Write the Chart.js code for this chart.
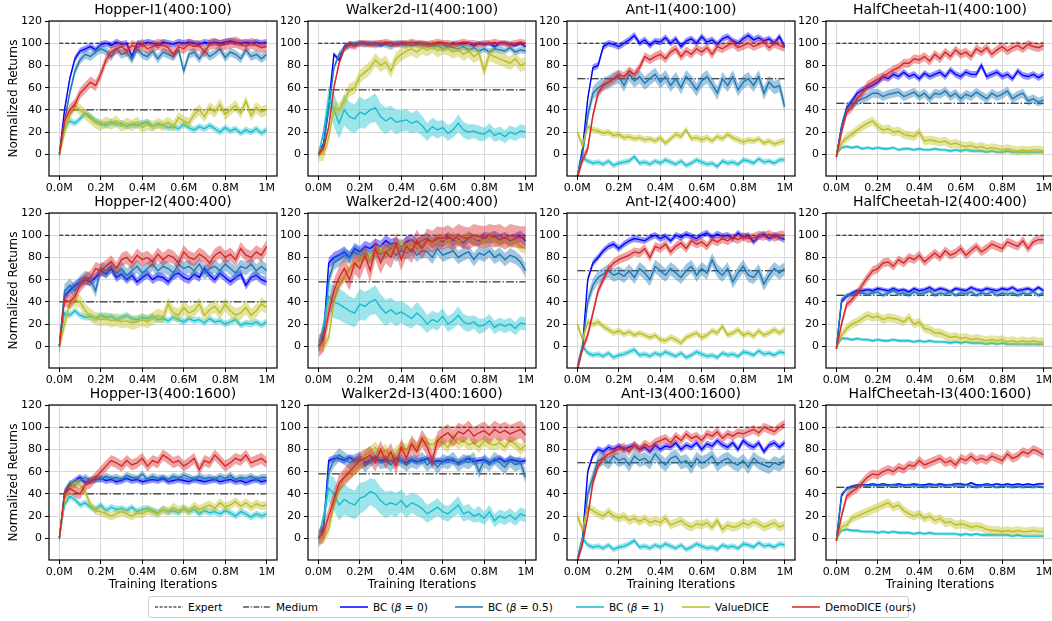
<!DOCTYPE html>
<html><head><meta charset="utf-8">
<script src="https://cdn.jsdelivr.net/npm/chart.js@4.4.1/dist/chart.umd.min.js"></script>
<style>
html,body{margin:0;padding:0;background:#fff;width:1052px;height:621px;overflow:hidden;font-family:'DejaVu Sans',sans-serif;}
.panel{position:absolute;}
#legend{position:absolute;left:148px;top:596px;width:761px;height:22px;border:1px solid #cccccc;border-radius:3px;box-sizing:border-box;background:#fff;}
.li{position:absolute;top:0;height:20px;display:flex;align-items:center;font-size:10.5px;white-space:nowrap;color:#000;}
.li svg{margin-right:5px;}
</style></head><body>
<div id="legend"></div>
<script>
// ---------- data ----------
const iterations = [0,0.025,0.05,0.075,0.1,0.125,0.15,0.175,0.2,0.225,0.25,0.275,0.3,0.325,0.35,0.375,0.4,0.425,0.45,0.475,0.5,0.525,0.55,0.575,0.6,0.625,0.65,0.675,0.7,0.725,0.75,0.775,0.8,0.825,0.85,0.875,0.9,0.925,0.95,0.975,1];
const xTickValues = [0,0.2,0.4,0.6,0.8,1];
const xTickLabels = ["0.0M","0.2M","0.4M","0.6M","0.8M","1M"];
const yTickValues = [0,20,40,60,80,100,120];
const panelTitles = ["Hopper-I1(400:100)","Walker2d-I1(400:100)","Ant-I1(400:100)","HalfCheetah-I1(400:100)",
  "Hopper-I2(400:400)","Walker2d-I2(400:400)","Ant-I2(400:400)","HalfCheetah-I2(400:400)",
  "Hopper-I3(400:1600)","Walker2d-I3(400:1600)","Ant-I3(400:1600)","HalfCheetah-I3(400:1600)"];
const expertLevel = 100;
const mediumLevels = [40, 58, 68, 46]; // Hopper, Walker2d, Ant, HalfCheetah
const seriesNames = ["BC (β = 0)","BC (β = 0.5)","BC (β = 1)","ValueDICE","DemoDICE (ours)"];

// Hopper-I1
const hopperI1Bc0 = [0,40,68,86,93,95,97,94,99,100,98,101,99,100,88,100,99,101,100,98,101,100,99,101,100,101,100,99,101,100,101,100,101,102,101,100,101,100,101,100,101];
const hopperI1Bc05 = [0,30,55,75,85,90,88,92,95,93,88,95,90,92,85,95,90,88,93,86,92,90,88,94,75,90,92,86,93,88,91,95,87,92,90,86,94,88,90,86,90];
const hopperI1Bc1 = [0,25,30,28,32,37,34,30,28,26,29,27,28,25,27,26,28,29,25,27,26,24,25,23,27,24,22,25,23,26,23,20,24,21,23,19,22,20,23,19,22];
const hopperI1Vdice = [0,20,35,44,40,36,32,28,26,29,27,30,25,28,26,29,24,27,25,28,26,29,25,33,30,28,36,40,34,42,38,45,36,40,44,37,48,35,42,38,40];
const hopperI1Demo = [0,30,40,45,55,60,65,62,72,85,92,95,97,93,98,96,99,95,97,99,98,96,90,97,95,99,97,98,92,99,100,98,99,100,101,99,97,100,98,96,97];
const hopperI1Band = [3,4,3,5,5];
// Walker2d-I1
const walkerI1Bc0 = [0,10,45,90,85,97,100,99,100,100,99,100,98,100,100,99,100,100,98,100,100,99,98,100,100,97,100,99,100,100,98,100,99,100,97,100,100,99,98,100,97];
const walkerI1Bc05 = [0,8,40,78,90,95,98,99,100,99,100,98,100,99,97,100,99,98,100,99,98,99,97,98,95,97,96,95,97,94,96,93,95,92,95,94,93,96,92,94,93];
const walkerI1Bc1 = [0,20,50,40,28,40,34,32,38,36,40,42,34,30,33,29,30,31,28,30,26,20,25,22,24,19,22,28,22,20,21,19,18,22,17,19,16,20,18,21,20];
const walkerI1Vdice = [0,0,15,42,40,48,58,60,70,74,78,85,80,83,75,86,90,93,95,92,96,94,97,93,96,95,92,94,90,93,88,91,75,90,88,86,84,82,86,80,82];
const walkerI1Demo = [0,5,25,60,82,95,99,97,100,100,99,100,100,101,100,99,100,100,101,100,100,99,100,101,100,100,99,100,101,100,100,99,100,100,101,100,100,99,100,101,100];
const walkerBc1Band = [0,5,12,15,14,14,13,13,14,13,12,13,12,12,11,11,10,10,9,10,9,8,8,8,7,7,7,8,7,7,6,7,6,6,6,6,6,6,6,6,6];
const walkerI1Band = [2,3,walkerBc1Band,6,3];
// Ant-I1
const antI1Bc0 = [-20,5,50,78,80,97,100,99,97,100,103,107,100,103,98,102,101,105,100,104,97,102,104,100,106,101,103,99,104,106,102,100,104,107,103,105,102,104,100,106,97];
const antI1Bc05 = [-20,0,35,55,60,63,65,68,70,62,72,66,70,64,68,72,65,70,62,68,60,70,65,58,66,70,63,55,68,62,70,58,65,68,62,70,55,65,60,62,43];
const antI1Bc1 = [-18,-3,-6,-8,-7,-9,-6,-10,-8,-7,-6,-2,-8,-7,-9,-6,-8,-5,-7,-9,-6,-10,-8,-5,-7,-9,-8,-11,-6,-8,-7,-9,-5,-6,-8,-4,-7,-6,-8,-5,-5];
const antI1Vdice = [20,8,25,22,21,19,20,17,18,15,16,14,15,13,14,12,15,10,14,18,16,22,14,15,13,15,12,16,14,18,15,13,11,13,12,14,10,12,9,11,12];
const antI1Demo = [-20,-5,5,35,55,62,65,68,72,70,75,72,78,88,85,88,90,86,92,95,88,93,90,95,92,96,90,97,95,98,100,96,98,100,97,99,101,96,100,98,96];
const antI1Band = [3,6,2.5,3,4];
// HalfCheetah-I1
const cheetahI1Bc0 = [-2,25,42,48,55,58,60,62,65,70,68,72,70,74,70,72,68,73,70,72,74,70,76,72,70,74,72,72,80,70,72,74,70,72,68,75,71,70,72,69,72];
const cheetahI1Bc05 = [-2,25,40,45,48,50,52,55,55,52,54,55,56,52,54,56,52,55,50,55,54,57,52,55,50,54,52,56,53,50,55,52,54,57,50,53,55,48,50,47,49];
const cheetahI1Bc1 = [0,6,7,6,7,5,6,5,6,5,5,6,4,5,5,4,5,4,4,5,4,4,3,4,3,4,3,3,3,2,3,2,2,3,2,2,2,2,2,2,2];
const cheetahI1Vdice = [0,10,15,18,22,25,28,30,25,22,23,20,21,18,17,16,20,12,13,12,11,12,9,10,8,7,8,6,7,5,6,5,4,5,4,3,4,3,4,4,3];
const cheetahI1Demo = [-2,20,38,42,50,55,62,65,68,70,73,76,78,82,82,86,85,88,84,90,86,92,88,94,90,92,88,95,92,96,90,94,97,93,96,98,95,99,97,96,98];
const cheetahI1Band = [3,4,1.5,4,4];
// Hopper-I2
const hopperI2Bc0 = [0,45,50,55,58,60,58,62,68,65,70,62,65,60,64,58,62,65,60,63,62,58,64,66,62,60,65,62,70,64,60,66,62,58,62,65,55,62,64,60,58];
const hopperI2Bc05 = [0,50,55,50,58,62,60,50,70,68,72,66,70,64,68,72,66,70,74,68,72,70,66,74,70,72,68,74,66,70,72,68,74,70,66,72,70,74,68,72,68];
const hopperI2Bc1 = [0,30,28,32,28,26,27,25,28,26,27,24,26,28,25,24,26,25,27,24,25,23,26,24,22,25,23,24,21,25,22,23,20,22,24,19,21,20,22,19,22];
const hopperI2Vdice = [0,20,38,42,40,32,28,25,24,25,23,24,22,23,21,22,24,22,25,28,26,38,30,28,35,30,32,38,28,33,36,30,38,32,28,30,35,28,32,38,35];
const hopperI2Demo = [0,42,40,45,55,60,62,70,68,72,76,70,78,80,75,82,78,80,76,83,78,82,80,75,85,80,78,83,80,75,82,85,80,83,78,88,82,80,85,82,90];
const hopperI2Band = [4,6,3,6,6];
// Walker2d-I2
const walkerI2Bc0 = [0,10,75,80,82,85,80,88,85,90,88,92,90,95,92,93,90,94,96,92,95,97,93,96,94,98,95,97,93,98,96,95,98,97,99,96,98,95,97,99,95];
const walkerI2Bc05 = [0,8,60,75,78,82,80,85,82,84,80,86,83,85,88,82,86,84,88,82,86,85,80,88,82,84,86,80,83,85,78,84,82,86,80,83,78,82,80,76,68];
const walkerI2Bc1 = [0,20,45,40,38,35,32,30,38,36,40,42,35,30,33,29,31,28,25,30,26,20,24,22,27,20,23,28,22,20,22,18,19,23,17,20,18,20,16,21,20];
const walkerI2Vdice = [0,0,8,40,55,62,70,75,78,82,80,85,88,84,86,90,92,88,93,90,94,96,93,95,97,94,98,95,96,99,95,97,94,98,96,93,97,92,95,90,88];
const walkerI2Demo = [0,5,30,50,62,70,60,75,70,82,68,88,75,85,80,92,78,90,85,95,88,96,94,98,97,99,96,100,98,97,100,99,98,100,99,100,97,100,99,98,98];
const walkerI2Band = [5,6,walkerBc1Band,5,10];
// Ant-I2
const antI2Bc0 = [-20,0,60,75,80,86,90,92,88,92,95,97,96,95,98,100,97,99,95,100,98,101,99,97,100,102,98,101,99,100,97,102,98,100,94,99,101,97,100,98,96];
const antI2Bc05 = [-20,0,40,55,62,65,68,64,66,63,68,62,70,66,60,72,68,64,70,66,62,68,72,64,70,66,78,68,64,70,58,66,72,64,62,68,56,64,70,66,70];
const antI2Bc1 = [-18,0,-6,-8,-7,-9,-6,-10,-8,-7,-5,-3,-8,-7,-9,-6,-8,-5,-7,-9,-6,-10,-8,-5,-7,-9,-8,-10,-6,-8,-7,-9,-5,-6,-8,-4,-7,-6,-8,-5,-6];
const antI2Vdice = [20,6,22,20,22,18,15,12,14,11,13,10,12,10,8,10,6,5,8,6,3,8,10,12,8,10,14,12,18,10,12,15,10,12,9,14,10,12,15,12,15];
const antI2Demo = [-20,-2,10,30,50,60,70,75,78,80,82,85,84,88,80,90,88,92,85,90,93,88,95,92,94,90,96,94,97,95,98,96,99,97,98,100,99,101,98,100,100];
const antI2Band = [3,6,2.5,3,4];
// HalfCheetah-I2
const cheetahI2Bc0 = [-2,40,45,48,50,50,51,50,52,51,50,52,50,51,49,52,50,51,53,50,52,51,49,52,51,50,53,51,50,52,51,50,52,51,53,50,51,52,50,53,50];
const cheetahI2Bc05 = [-2,42,46,46,48,48,47,48,49,46,48,50,47,48,46,49,47,48,50,46,48,47,49,46,48,47,49,46,48,47,49,46,48,47,48,46,48,47,49,46,48];
const cheetahI2Bc1 = [0,7,7,6,7,6,6,5,6,5,5,6,5,5,5,4,5,4,5,4,4,4,3,4,3,4,3,3,3,2,3,2,3,2,2,2,2,2,2,2,2];
const cheetahI2Vdice = [0,10,16,20,22,25,28,26,27,24,26,25,24,22,26,20,22,16,15,12,12,10,8,9,7,8,6,7,6,5,6,5,6,4,5,4,5,4,5,4,4];
const cheetahI2Demo = [-2,20,38,42,48,55,62,68,70,75,76,72,78,75,80,78,82,76,80,84,80,86,82,84,88,82,86,90,85,88,92,90,88,94,92,90,95,88,94,96,96];
const cheetahI2Band = [2,2,1.5,4,4];
// Hopper-I3
const hopperI3Bc0 = [0,40,48,52,55,50,52,53,54,52,53,51,52,54,52,53,51,52,53,52,54,51,52,53,52,51,53,52,51,52,53,51,52,53,51,52,50,52,53,51,52];
const hopperI3Bc05 = [0,42,50,48,52,55,52,54,53,56,54,55,53,57,55,54,58,53,56,54,55,53,56,54,57,55,53,56,54,55,53,56,54,57,53,55,54,56,53,55,55];
const hopperI3Bc1 = [0,30,38,35,30,32,28,26,30,25,28,26,27,25,28,24,26,27,25,23,26,24,25,23,27,24,26,22,25,23,24,22,25,23,20,24,22,19,22,20,22];
const hopperI3Vdice = [0,35,45,50,48,42,30,25,24,22,20,22,24,22,20,23,22,25,24,22,26,24,28,25,27,24,29,26,28,30,27,32,28,30,33,29,32,28,31,29,30];
const hopperI3Demo = [0,40,45,42,40,48,50,55,60,65,70,68,65,70,66,68,72,65,70,68,75,72,68,70,65,68,72,62,70,68,75,70,65,68,72,70,75,68,70,72,68];
const hopperI3Band = [3,3,3,4,5];
// Walker2d-I3
const walkerI3Bc0 = [0,10,70,72,72,70,73,70,72,68,70,72,70,71,69,72,70,68,71,69,70,72,68,70,69,71,70,68,70,72,69,70,71,68,70,72,69,71,70,69,70];
const walkerI3Bc05 = [0,8,60,70,75,72,68,70,72,65,70,74,68,70,66,72,70,66,70,68,72,66,70,64,70,68,72,66,70,68,72,60,70,66,72,68,64,70,66,68,55];
const walkerI3Bc1 = [0,20,45,40,30,35,32,30,36,38,42,40,34,30,32,30,34,28,32,30,27,22,25,28,24,22,26,30,22,24,20,22,18,24,16,20,18,21,17,22,20];
const walkerI3Vdice = [0,0,8,30,45,55,58,62,65,75,78,82,76,80,72,78,82,80,85,82,88,86,84,88,86,82,90,85,88,84,86,82,88,85,84,86,82,88,85,80,84];
const walkerI3Demo = [0,5,20,35,50,55,60,65,70,72,75,68,80,70,78,65,82,72,85,78,90,82,70,88,92,95,90,96,94,98,92,95,97,93,98,95,97,94,96,98,93];
const walkerI3Band = [3,6,walkerBc1Band,5,8];
// Ant-I3
const antI3Bc0 = [-20,0,60,75,80,78,82,80,83,80,82,84,80,82,78,84,80,83,82,86,80,84,82,86,80,85,83,88,84,82,86,80,88,84,82,86,78,84,86,82,86];
const antI3Bc05 = [-20,0,40,55,70,72,68,74,70,72,66,74,70,72,68,76,70,66,72,74,68,70,64,72,68,70,74,66,70,72,68,66,70,64,72,68,66,64,68,66,70];
const antI3Bc1 = [-18,0,-6,-8,-7,-9,-6,-10,-8,-7,-5,-2,-8,-7,-9,-6,-8,-5,-7,-9,-6,-10,-8,-5,-7,-9,-8,-10,-6,-8,-7,-9,-5,-6,-8,-4,-7,-6,-8,-5,-6];
const antI3Vdice = [20,8,28,25,22,20,24,20,18,20,16,18,15,18,14,16,14,18,12,14,16,12,10,13,12,14,10,16,8,12,10,11,14,12,15,13,10,12,14,10,12];
const antI3Demo = [-20,-5,20,50,65,72,76,78,80,82,78,84,80,85,82,86,88,90,86,92,88,94,90,92,88,94,92,96,90,94,92,95,94,96,98,95,100,98,96,100,103];
const antI3Band = [3,6,2.5,4,4];
// HalfCheetah-I3
const cheetahI3Bc0 = [-2,38,45,47,48,48,48,49,48,49,48,48,49,48,48,49,48,48,49,48,49,48,48,49,49,48,50,48,48,49,48,49,48,49,48,49,48,49,48,49,49];
const cheetahI3Bc05 = [-2,40,44,46,47,48,47,48,47,48,47,48,47,47,48,47,48,46,47,48,47,47,48,47,47,48,47,46,47,48,47,46,47,47,46,47,46,47,46,47,46];
const cheetahI3Bc1 = [0,7,8,7,7,6,6,6,5,6,5,6,5,5,5,4,5,4,5,4,4,4,4,4,3,4,3,4,3,3,3,3,3,3,2,3,2,2,2,2,2];
const cheetahI3Vdice = [0,10,12,18,20,22,24,26,28,30,32,28,30,25,22,20,22,18,20,16,18,14,15,12,13,12,10,11,10,8,7,7,6,7,6,7,6,6,7,6,6];
const cheetahI3Demo = [-2,20,38,42,45,50,55,58,57,60,62,60,64,62,66,65,70,66,68,70,72,68,70,66,72,70,74,70,72,70,74,72,70,76,72,74,78,76,80,78,75];
const cheetahI3Band = [1,1.5,1.5,4,4];

const panelSeries = [
  [hopperI1Bc0,hopperI1Bc05,hopperI1Bc1,hopperI1Vdice,hopperI1Demo],
  [walkerI1Bc0,walkerI1Bc05,walkerI1Bc1,walkerI1Vdice,walkerI1Demo],
  [antI1Bc0,antI1Bc05,antI1Bc1,antI1Vdice,antI1Demo],
  [cheetahI1Bc0,cheetahI1Bc05,cheetahI1Bc1,cheetahI1Vdice,cheetahI1Demo],
  [hopperI2Bc0,hopperI2Bc05,hopperI2Bc1,hopperI2Vdice,hopperI2Demo],
  [walkerI2Bc0,walkerI2Bc05,walkerI2Bc1,walkerI2Vdice,walkerI2Demo],
  [antI2Bc0,antI2Bc05,antI2Bc1,antI2Vdice,antI2Demo],
  [cheetahI2Bc0,cheetahI2Bc05,cheetahI2Bc1,cheetahI2Vdice,cheetahI2Demo],
  [hopperI3Bc0,hopperI3Bc05,hopperI3Bc1,hopperI3Vdice,hopperI3Demo],
  [walkerI3Bc0,walkerI3Bc05,walkerI3Bc1,walkerI3Vdice,walkerI3Demo],
  [antI3Bc0,antI3Bc05,antI3Bc1,antI3Vdice,antI3Demo],
  [cheetahI3Bc0,cheetahI3Bc05,cheetahI3Bc1,cheetahI3Vdice,cheetahI3Demo]
];
const panelBands = [hopperI1Band,walkerI1Band,antI1Band,cheetahI1Band,hopperI2Band,walkerI2Band,antI2Band,cheetahI2Band,hopperI3Band,walkerI3Band,antI3Band,cheetahI3Band];

// ---------- styling ----------
const FONT = "'DejaVu Sans'";
const LINE_COLORS = ['#0000ff','#1f77b4','#17becf','#bcbd22','#d62728'];
const BAND_COLORS = ['rgba(0,0,255,0.42)','rgba(31,119,180,0.42)','rgba(23,190,207,0.42)','rgba(188,189,34,0.42)','rgba(214,39,40,0.42)'];
const EXPERT_DASH = [4,2];
const MEDIUM_DASH = [8,2,1.4,2];
const AX_LEFT = [49,308,567,826], AX_TOP = [21,213,405], AX_W = 228, AX_H = 155;
const TITLE_H = 19;

const framePlugin = {
  id:'frame',
  afterDraw(chart){
    const {ctx, chartArea:a} = chart;
    ctx.save(); ctx.strokeStyle='#000'; ctx.lineWidth=1.2;
    ctx.strokeRect(a.left, a.top, a.right-a.left, a.bottom-a.top);
    ctx.restore();
  }
};

function bandVal(b, i){ return Array.isArray(b) ? b[i] : b; }

panelTitles.forEach((title, idx) => {
  const r = Math.floor(idx/4), c = idx % 4;
  const yw = c === 0 ? 49 : 40;
  const xh = r === 2 ? 32 : 24;
  const padR = 4;
  const w = yw + AX_W + padR, h = TITLE_H + AX_H + xh;
  const div = document.createElement('div');
  div.className = 'panel';
  div.style.left = (AX_LEFT[c] - yw) + 'px';
  div.style.top = (AX_TOP[r] - TITLE_H) + 'px';
  div.style.width = w + 'px'; div.style.height = h + 'px';
  const cv = document.createElement('canvas');
  cv.width = w; cv.height = h; cv.style.width = w+'px'; cv.style.height = h+'px';
  div.appendChild(cv); document.body.appendChild(div);

  const datasets = [];
  let ord = 100;
  datasets.push({data:[{x:0,y:expertLevel},{x:1,y:expertLevel}], borderColor:'#000', borderWidth:1, borderDash:EXPERT_DASH, pointRadius:0, fill:false, order:ord--});
  datasets.push({data:[{x:0,y:mediumLevels[c]},{x:1,y:mediumLevels[c]}], borderColor:'#000', borderWidth:1, borderDash:MEDIUM_DASH, pointRadius:0, fill:false, order:ord--});
  panelSeries[idx].forEach((vals, k) => {
    const b = panelBands[idx][k];
    datasets.push({data: iterations.map((x,i)=>({x, y: vals[i]-bandVal(b,i)})), borderColor:'rgba(0,0,0,0)', borderWidth:1, pointRadius:0, fill:false, order:ord--});
    datasets.push({data: iterations.map((x,i)=>({x, y: vals[i]+bandVal(b,i)})), borderColor:'rgba(0,0,0,0)', borderWidth:1, backgroundColor:BAND_COLORS[k], pointRadius:0, fill:'-1', order:ord--});
    datasets.push({label: seriesNames[k], data: iterations.map((x,i)=>({x, y: vals[i]})), borderColor:LINE_COLORS[k], borderWidth:1.4, pointRadius:0, fill:false, order:ord--});
  });

  new Chart(cv, {
    type:'line',
    data:{datasets},
    options:{
      responsive:false, animation:false, devicePixelRatio:1, events:[],
      layout:{padding:{left:0,right:padR,top:0,bottom:0}, autoPadding:false},
      elements:{line:{tension:0}},
      plugins:{
        legend:{display:false}, tooltip:{enabled:false},
        title:{display:true, text:title, fullSize:false, color:'#000',
          font:{family:FONT,size:14,weight:'normal',lineHeight:1.25}, padding:{top:0,bottom:1.5}}
      },
      scales:{
        x:{type:'linear', min:-0.05, max:1.05,
          afterBuildTicks: s => { s.ticks = xTickValues.map(v=>({value:v})); },
          afterFit: s => { s.height = xh; },
          ticks:{callback:(v,i)=>xTickLabels[i], color:'#000', font:{family:FONT,size:11}, padding:2, maxRotation:0, autoSkip:false},
          grid:{color:'#d9d9d9', lineWidth:1, tickLength:4, tickColor:'#000', tickWidth:1},
          border:{display:false},
          title:{display:r===2, text:'Training Iterations', color:'#000', font:{family:FONT,size:12,lineHeight:1.2}, padding:{top:0,bottom:0}}
        },
        y:{type:'linear', min:-19.5, max:120,
          afterBuildTicks: s => { s.ticks = yTickValues.map(v=>({value:v})); },
          afterFit: s => { s.width = yw; },
          ticks:{callback:v=>String(v), color:'#000', font:{family:FONT,size:11}, padding:3, autoSkip:false},
          grid:{color:'#d9d9d9', lineWidth:1, tickLength:4, tickColor:'#000', tickWidth:1},
          border:{display:false},
          title:{display:c===0, text:'Normalized Returns', color:'#000', font:{family:FONT,size:12,lineHeight:1.2}, padding:{top:7,bottom:0}}
        }
      }
    },
    plugins:[framePlugin]
  });
});

// ---------- legend ----------
const legendItems = [
  {html:'Expert', color:'#000', dash:'3,1.6', x:155},
  {html:'Medium', color:'#000', dash:'6,1.6,1.2,1.6', x:243},
  {html:'BC (<i>β</i> = 0)', color:LINE_COLORS[0], dash:'', x:340},
  {html:'BC (<i>β</i> = 0.5)', color:LINE_COLORS[1], dash:'', x:455},
  {html:'BC (<i>β</i> = 1)', color:LINE_COLORS[2], dash:'', x:576},
  {html:'ValueDICE', color:LINE_COLORS[3], dash:'', x:682},
  {html:'DemoDICE (ours)', color:LINE_COLORS[4], dash:'', x:792}
];
const lg = document.getElementById('legend');
legendItems.forEach(it => {
  const d = document.createElement('div');
  d.className = 'li';
  d.style.left = (it.x - 149) + 'px';
  d.innerHTML = `<svg width="28" height="10"><line x1="0" y1="5" x2="28" y2="5" stroke="${it.color}" stroke-width="${it.dash?1:1.5}" ${it.dash?`stroke-dasharray="${it.dash}"`:''}/></svg><span>${it.html}</span>`;
  lg.appendChild(d);
});
</script>
</body></html>
